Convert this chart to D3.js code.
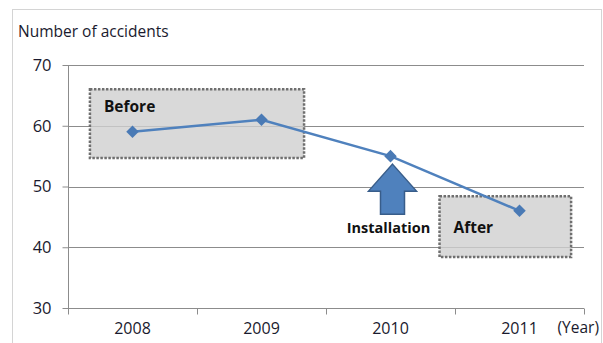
<!DOCTYPE html>
<html>
<head>
<meta charset="utf-8">
<script src="https://cdn.jsdelivr.net/npm/d3@7"></script>
<style>
  html, body { margin: 0; padding: 0; background: #fff; }
  svg { display: block; }
</style>
</head>
<body>
<svg id="chart" width="603" height="343"></svg>
<script>
// Accidents per year, before and after the installation
const years = ["2008", "2009", "2010", "2011"];
const accidents = [59, 61, 55, 46];
const yTicks = [30, 40, 50, 60, 70];
const yTitle = "Number of accidents";
const xUnit = "(Year)";

const svg = d3.select("#chart");
const font = "'Open Sans', 'Liberation Sans', sans-serif";
const textColor = "#1a1a2e";

const plot = { left: 68, right: 584, top: 65, bottom: 308 };

const x = d3.scaleBand().domain(years).range([plot.left, plot.right]);
const y = d3.scaleLinear().domain([30, 70]).range([plot.bottom, plot.top]);

// outer frame
svg.append("rect")
  .attr("x", 12.5).attr("y", 9.5).attr("width", 589).attr("height", 345)
  .attr("fill", "#fff").attr("stroke", "#d4d4d4").attr("stroke-width", 1);

// horizontal gridlines
svg.append("g").selectAll("line").data(yTicks.filter(d => d > 30)).join("line")
  .attr("x1", plot.left).attr("x2", plot.right)
  .attr("y1", d => Math.round(y(d)) + 0.5).attr("y2", d => Math.round(y(d)) + 0.5)
  .attr("stroke", "#8c8c8c").attr("stroke-width", 1);

// y axis
const yAxis = svg.append("g")
  .attr("transform", `translate(${plot.left + 0.5},0)`)
  .call(d3.axisLeft(y).tickValues(yTicks).tickSize(6).tickPadding(11).tickFormat(d3.format("d")));
yAxis.select(".domain").attr("stroke", "#8c8c8c").attr("d", `M0,${plot.top}V${plot.bottom}`);
yAxis.selectAll(".tick line").attr("stroke", "#8c8c8c");
yAxis.selectAll(".tick text")
  .attr("font-family", font).attr("font-size", 16.5).attr("fill", textColor);

// x axis with tick marks at category boundaries
const xAxis = svg.append("g")
  .attr("transform", `translate(0,${Math.round(plot.bottom) + 0.5})`);
xAxis.append("line")
  .attr("x1", plot.left).attr("x2", plot.right)
  .attr("stroke", "#8c8c8c");
const bounds = years.map(d => x(d)).concat([x(years[years.length - 1]) + x.bandwidth()]);
xAxis.selectAll("line.tk").data(bounds).join("line").attr("class", "tk")
  .attr("x1", d => Math.round(d) + 0.5).attr("x2", d => Math.round(d) + 0.5)
  .attr("y1", 0).attr("y2", 6).attr("stroke", "#8c8c8c");
xAxis.selectAll("text").data(years).join("text")
  .attr("x", d => x(d) + x.bandwidth() / 2).attr("y", 25)
  .attr("text-anchor", "middle")
  .attr("font-family", font).attr("font-size", 16).attr("fill", textColor)
  .text(d => d);

svg.append("text")
  .attr("x", 599).attr("y", plot.bottom + 25).attr("text-anchor", "end")
  .attr("font-family", font).attr("font-size", 15.5).attr("fill", textColor)
  .text(xUnit);

// axis title
svg.append("text")
  .attr("x", 18).attr("y", 37)
  .attr("font-family", font).attr("font-size", 15.5).attr("fill", textColor)
  .text(yTitle);

// annotation boxes (period highlights)
const boxes = [
  { label: "Before", from: "2008", to: "2009", hi: 66, lo: 54.7 },
  { label: "After", from: "2011", to: "2011", hi: 48.4, lo: 38.4 }
];
const boxG = svg.append("g");
boxes.forEach(b => {
  let x0, x1;
  if (b.label === "Before") {
    x0 = x(b.from) + x.bandwidth() * 0.17;
    x1 = x(b.to) + x.bandwidth() * 0.83;
  } else {
    x0 = x(b.from) - x.bandwidth() * 0.12;
    x1 = x(b.to) + x.bandwidth() * 0.9;
  }
  const y0 = y(b.hi), y1 = y(b.lo);
  boxG.append("rect")
    .attr("x", x0).attr("y", y0).attr("width", x1 - x0).attr("height", y1 - y0)
    .attr("fill", "#cfcfcf").attr("fill-opacity", 0.8)
    .attr("stroke", "#6f6f6f").attr("stroke-width", 2.5)
    .attr("stroke-dasharray", "2.5,1.5");
  boxG.append("text")
    .attr("x", x0 + 14).attr("y", b.label === "Before" ? y0 + 23 : y1 - 24)
    .attr("font-family", font).attr("font-size", 15.5).attr("font-weight", "bold")
    .attr("fill", "#111")
    .text(b.label);
});

// series line and diamond markers
const line = d3.line()
  .x((d, i) => x(years[i]) + x.bandwidth() / 2)
  .y(d => y(d));
svg.append("path")
  .datum(accidents)
  .attr("d", line)
  .attr("fill", "none").attr("stroke", "#4f81bd").attr("stroke-width", 2.5);
svg.append("g").selectAll("path").data(accidents).join("path")
  .attr("d", d3.symbol().type(d3.symbolDiamond2).size(100))
  .attr("transform", (d, i) => `translate(${x(years[i]) + x.bandwidth() / 2},${y(d)})`)
  .attr("fill", "#4a7ab5");

// installation arrow pointing at 2010
const ax = x("2010") + x.bandwidth() / 2 + 2;
const tipY = y(accidents[2]) + 8;
const headBase = tipY + 27, shaftEnd = tipY + 50;
const arrowPts = [
  [ax, tipY], [ax + 24, headBase], [ax + 12, headBase], [ax + 12, shaftEnd],
  [ax - 12, shaftEnd], [ax - 12, headBase], [ax - 24, headBase]
];
svg.append("path")
  .attr("d", d3.line()(arrowPts) + "Z")
  .attr("fill", "#4f81bd").attr("stroke", "#385d8a").attr("stroke-width", 1.5);

svg.append("text")
  .attr("x", ax - 4).attr("y", shaftEnd + 19).attr("text-anchor", "middle")
  .attr("font-family", font).attr("font-size", 14.5).attr("font-weight", "bold")
  .attr("fill", "#111")
  .text("Installation");
</script>
</body>
</html>
